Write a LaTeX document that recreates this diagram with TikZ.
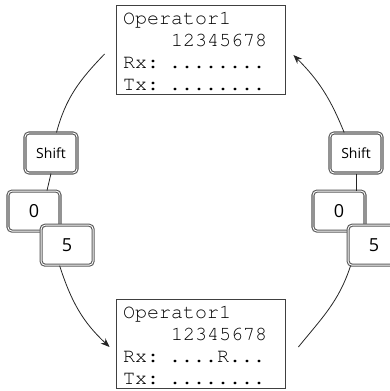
\documentclass[tikz,border=0pt]{standalone}
\usepackage[T1]{fontenc}
\usepackage{fontspec}
\setsansfont{Open Sans}
\usetikzlibrary{positioning,arrows.meta}

\newcommand{\lcdfont}{\fontencoding{T1}\fontfamily{pcr}\fontsize{20}{21.9}\selectfont}

\begin{document}
\begin{tikzpicture}[
x=1pt, y=1pt,
display/.style={rectangle, draw=black!75, line width=0.8pt, minimum width=169pt, minimum height=89pt, text width=155pt, align=left, inner xsep=7pt, inner ysep=0pt, font=\lcdfont},
keycap/.style={rectangle, draw=black!65, double=white, double distance=0.9pt, line width=1.1pt, rounded corners=4pt, fill=white, minimum width=52pt, minimum height=40pt, font=\sffamily\fontsize{18}{20}\selectfont},
flow/.style={line width=0.8pt, black!85, >={Stealth[length=9pt,width=7pt]}}
]
\useasboundingbox (0,0) rectangle (390,391);

\node[display] (opTop) at (200.5,341) {\rule{0pt}{16pt}Operator1\\ \phantom{1234}12345678\\ Rx: ........\\ Tx: ........};
\node[display] (opBot) at (200.5,47) {\rule{0pt}{16pt}Operator1\\ \phantom{1234}12345678\\ Rx: ....R...\\ Tx: ........};

% left keys
\node[keycap, font=\sffamily\fontsize{14}{16}\selectfont] (shiftL) at (51,238) {Shift};
\node[keycap] (zeroL) [below=17pt of shiftL, xshift=-17pt] {0};
\node[keycap] (fiveL) [below right=-7pt and -20pt of zeroL] {5};

% right keys
\node[keycap, font=\sffamily\fontsize{14}{16}\selectfont] (shiftR) at (356,238) {Shift};
\node[keycap] (zeroR) [below=17pt of shiftR, xshift=-17pt] {0};
\node[keycap] (fiveR) [below right=-7pt and -18pt of zeroR] {5};

\draw[flow] ([xshift=-11pt,yshift=-4pt]opTop.west) to[out=226,in=75] (shiftL.75);
\draw[flow] (shiftL.south) -- ([xshift=13pt]zeroL.north);
\draw[flow,->] (fiveL.250) to[out=288,in=137] ([xshift=-6pt,yshift=-3pt]opBot.west);

\draw[flow] ([xshift=13pt,yshift=-3pt]opBot.east) to[out=51,in=252] ([xshift=3pt]fiveR.south west);
\draw[flow] (shiftR.south) -- ([xshift=17pt]zeroR.north);
\draw[flow,->] (shiftR.120) to[out=112,in=315] ([xshift=8pt,yshift=-5pt]opTop.east);
\end{tikzpicture}
\end{document}
